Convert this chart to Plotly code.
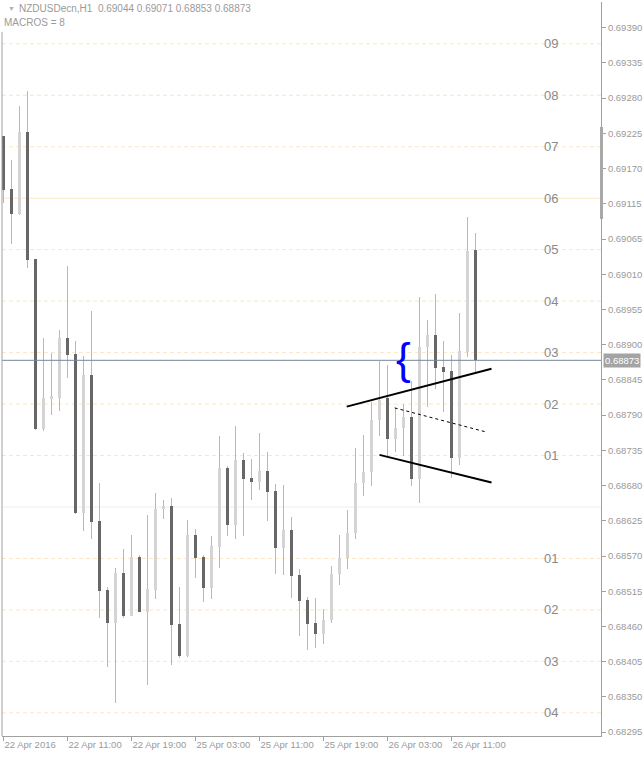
import plotly.graph_objects as go
import numpy as np

# ---------------- data (NZDUSDecn, H1) ----------------
opens = [0.69221, 0.69140, 0.69101, 0.69228, 0.69030, 0.68766, 0.68813, 0.68815, 0.68908, 0.68883,
         0.68636, 0.68850, 0.68623, 0.68516, 0.68465, 0.68543, 0.68476, 0.68567, 0.68482, 0.68516,
         0.68642, 0.68647, 0.68463, 0.68413, 0.68602, 0.68567, 0.68519, 0.68583, 0.68706, 0.68617,
         0.68718, 0.68690, 0.68684, 0.68701, 0.68670, 0.68581, 0.68609, 0.68539, 0.68500, 0.68464,
         0.68448, 0.68469, 0.68541, 0.68566, 0.68604, 0.68683, 0.68700, 0.68780, 0.68814, 0.68751,
         0.68768, 0.68785, 0.68689, 0.68894, 0.68913, 0.68863, 0.68857, 0.68721, 0.68886, 0.69044]
highs = [0.69222, 0.69185, 0.69269, 0.69292, 0.69031, 0.68908, 0.68885, 0.68920, 0.69020, 0.68903,
         0.68880, 0.68950, 0.68683, 0.68521, 0.68550, 0.68580, 0.68602, 0.68571, 0.68633, 0.68667,
         0.68656, 0.68659, 0.68521, 0.68625, 0.68611, 0.68571, 0.68600, 0.68756, 0.68709, 0.68771,
         0.68729, 0.68720, 0.68760, 0.68731, 0.68681, 0.68679, 0.68630, 0.68549, 0.68505, 0.68504,
         0.68487, 0.68553, 0.68602, 0.68641, 0.68737, 0.68757, 0.68808, 0.68872, 0.68866, 0.68799,
         0.68805, 0.68841, 0.68972, 0.68936, 0.68976, 0.68903, 0.68882, 0.68947, 0.69096, 0.69071]
lows = [0.69118, 0.69054, 0.69099, 0.69017, 0.68764, 0.68763, 0.68788, 0.68794, 0.68846, 0.68634,
        0.68608, 0.68595, 0.68473, 0.68396, 0.68340, 0.68473, 0.68475, 0.68481, 0.68368, 0.68502,
        0.68627, 0.68400, 0.68411, 0.68412, 0.68535, 0.68497, 0.68502, 0.68550, 0.68600, 0.68595,
        0.68600, 0.68656, 0.68672, 0.68623, 0.68541, 0.68539, 0.68504, 0.68445, 0.68423, 0.68426,
        0.68432, 0.68465, 0.68524, 0.68549, 0.68595, 0.68662, 0.68678, 0.68756, 0.68724, 0.68731,
        0.68724, 0.68678, 0.68651, 0.68801, 0.68829, 0.68793, 0.68690, 0.68710, 0.68878, 0.68853]
closes = [0.69138, 0.69101, 0.69228, 0.69029, 0.68766, 0.68815, 0.68817, 0.68908, 0.68882, 0.68636,
          0.68850, 0.68622, 0.68515, 0.68465, 0.68543, 0.68476, 0.68567, 0.68482, 0.68518, 0.68642,
          0.68647, 0.68462, 0.68413, 0.68602, 0.68566, 0.68519, 0.68585, 0.68706, 0.68617, 0.68718,
          0.68689, 0.68684, 0.68701, 0.68669, 0.68581, 0.68609, 0.68538, 0.68499, 0.68463, 0.68448,
          0.68469, 0.68541, 0.68566, 0.68605, 0.68683, 0.68700, 0.68780, 0.68812, 0.68751, 0.68768,
          0.68785, 0.68689, 0.68894, 0.68913, 0.68861, 0.68855, 0.68721, 0.68888, 0.69043, 0.68873]

time_tick_idx = [0, 8, 16, 24, 32, 40, 48, 56]
time_tick_labels = ["22 Apr 2016", "22 Apr 11:00", "22 Apr 19:00", "25 Apr 03:00",
                    "25 Apr 11:00", "25 Apr 19:00", "26 Apr 03:00", "26 Apr 11:00"]

price_tick_labels = ["0.69390", "0.69335", "0.69280", "0.69225", "0.69170", "0.69115", "0.69065",
                     "0.69010", "0.68955", "0.68900", "0.68845", "0.68790", "0.68735", "0.68680",
                     "0.68625", "0.68570", "0.68515", "0.68460", "0.68405", "0.68350", "0.68295"]
price_top_tick = 0.69390
price_bottom_tick = 0.68295

# MACROS = 8 levels
macro_levels = [0.68325, 0.68405, 0.68485, 0.68565, 0.68645, 0.68725, 0.68805,
                0.68885, 0.68965, 0.69045, 0.69125, 0.69205, 0.69285, 0.69365]
macro_labels = ["04", "03", "02", "01", "", "01", "02", "03", "04", "05", "06", "07", "08", "09"]
macro_kind = ["dash", "dash", "dash", "dash", "base", "dash", "dash", "dash", "dash", "dash",
              "solid", "dash", "dash", "dash"]

bid_price = 0.68873

# drawn objects (time index, price)
trend_upper_x = [42.9, 61.0]
trend_upper_y = [0.68801, 0.68860]
trend_lower_x = [47.0, 61.0]
trend_lower_y = [0.68726, 0.68683]
trend_mid_x = [48.9, 60.5]
trend_mid_y = [0.68799, 0.68761]
brace_x, brace_y = 50.0, 0.68868

# ---------------- figure ----------------
BULL = "#d4d4d4"
BEAR = "#676767"
WICK = "#b8b8b8"
AXIS = "#a0a0a0"
TXT = "#9a9a9a"
FONT = "Liberation Sans, Arial, sans-serif"

x = list(range(len(opens)))
fig = go.Figure()
fig.add_trace(go.Bar(
    x=x, base=lows, y=[h - l for h, l in zip(highs, lows)], width=0.125,
    marker=dict(color=WICK, line=dict(width=0)), hoverinfo="skip"))
fig.add_trace(go.Bar(
    x=x, base=[min(o, c) for o, c in zip(opens, closes)],
    y=[abs(c - o) for o, c in zip(opens, closes)], width=0.375,
    marker=dict(color=[BULL if c >= o else BEAR for o, c in zip(opens, closes)],
                line=dict(width=0)), hoverinfo="skip"))

shapes = []
for lvl, kind in zip(macro_levels, macro_kind):
    if kind == "dash":
        ln = dict(color="#fde6c4", width=1, dash="4px,3px")
    elif kind == "solid":
        ln = dict(color="#fde9c0", width=1)
    else:
        ln = dict(color="#f6ebe2", width=1)
    shapes.append(dict(type="line", xref="paper", x0=0, x1=1, yref="y", y0=lvl, y1=lvl,
                       line=ln, layer="below"))
shapes.append(dict(type="line", xref="paper", x0=0, x1=1, yref="y", y0=bid_price, y1=bid_price,
                   line=dict(color="#778899", width=1)))
# left frame border
shapes.append(dict(type="line", xref="paper", yref="paper", x0=0, x1=0, y0=0, y1=0.959,
                   line=dict(color=AXIS, width=1)))
# grey marker on right edge
shapes.append(dict(type="line", xref="paper", yref="paper", x0=1.0008, x1=1.0008, y0=0.7044,
                   y1=0.8297, line=dict(color="#a8a8a8", width=3)))
# trend lines
shapes.append(dict(type="line", xref="x", yref="y", x0=trend_upper_x[0], x1=trend_upper_x[1],
                   y0=trend_upper_y[0], y1=trend_upper_y[1], line=dict(color="black", width=2)))
shapes.append(dict(type="line", xref="x", yref="y", x0=trend_lower_x[0], x1=trend_lower_x[1],
                   y0=trend_lower_y[0], y1=trend_lower_y[1], line=dict(color="black", width=2)))
shapes.append(dict(type="line", xref="x", yref="y", x0=trend_mid_x[0], x1=trend_mid_x[1],
                   y0=trend_mid_y[0], y1=trend_mid_y[1],
                   line=dict(color="black", width=1, dash="3px,3px")))

annotations = []
for lvl, lab in zip(macro_levels, macro_labels):
    if lab:
        annotations.append(dict(x=67.3, y=lvl, xref="x", yref="y", text=lab, showarrow=False,
                                xanchor="left", yanchor="middle",
                                font=dict(family=FONT, size=13, color="#8a8a8a")))
annotations.append(dict(x=0.006, y=0.9905, xref="paper", yref="paper", text="▼", showarrow=False,
                        xanchor="left", yanchor="middle", font=dict(family=FONT, size=7, color="#b0b0b0")))
annotations.append(dict(x=0.0255, y=0.9905, xref="paper", yref="paper",
                        text="NZDUSDecn,H1  0.69044 0.69071 0.68853 0.68873", showarrow=False,
                        xanchor="left", yanchor="middle", font=dict(family=FONT, size=10, color=TXT)))
annotations.append(dict(x=0.0, y=0.9714, xref="paper", yref="paper", text="MACROS = 8",
                        showarrow=False, xanchor="left", yanchor="middle",
                        font=dict(family=FONT, size=10, color=TXT)))
annotations.append(dict(x=brace_x, y=brace_y, xref="x", yref="y", text="{", showarrow=False,
                        xanchor="center", yanchor="middle", yshift=5,
                        font=dict(family=FONT, size=44, color="#0000ff")))
annotations.append(dict(x=1, y=bid_price, xref="paper", yref="y", text="0.68873", showarrow=False,
                        xanchor="left", yanchor="middle", xshift=2, bgcolor="#a4a4a4", borderpad=1,
                        font=dict(family=FONT, size=9.5, color="white")))

fig.update_layout(
    width=644, height=758,
    margin=dict(l=2, r=43, t=2, b=22, pad=0),
    paper_bgcolor="white", plot_bgcolor="white",
    barmode="overlay", bargap=0, bargroupgap=0,
    showlegend=False, hovermode=False,
    shapes=shapes, annotations=annotations,
    xaxis=dict(range=[-0.1875, 74.6875], tickmode="array", tickvals=time_tick_idx,
               ticktext=time_tick_labels, ticks="outside", ticklen=4, tickcolor=AXIS,
               showline=True, linecolor=AXIS, linewidth=1, showgrid=False, zeroline=False,
               ticklabelposition="outside right",
               tickfont=dict(family=FONT, size=9.5, color=TXT), fixedrange=True),
    yaxis=dict(range=[0.68289, 0.69430], side="right", tickmode="array",
               tickvals=list(np.linspace(price_top_tick, price_bottom_tick, len(price_tick_labels))),
               ticktext=price_tick_labels, ticks="outside", ticklen=4, tickcolor=AXIS,
               showline=True, linecolor=AXIS, linewidth=1, showgrid=False, zeroline=False,
               tickfont=dict(family=FONT, size=9.5, color=TXT), fixedrange=True),
)

fig.write_html("out.html", config={"displayModeBar": False},
               post_script="document.body.style.margin='0';document.body.style.overflow='hidden';")
